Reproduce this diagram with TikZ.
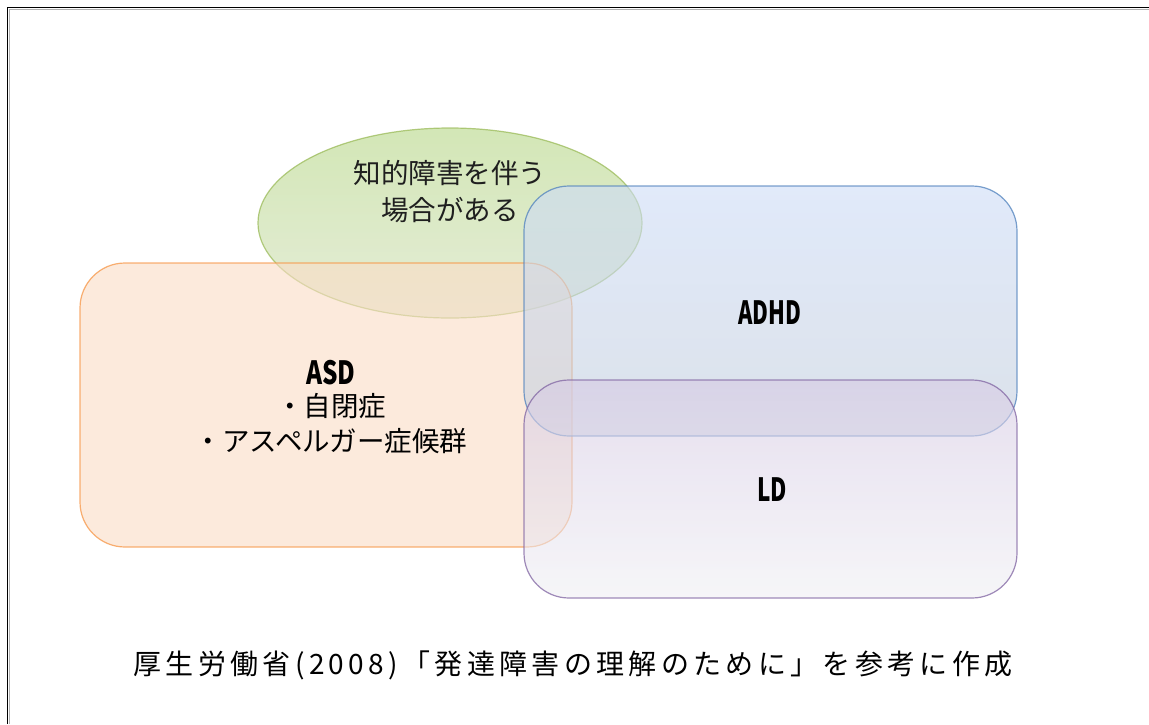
\documentclass[tikz,border=0pt]{standalone}
\usepackage{fontspec}
\usepackage{graphicx}
\setmainfont{Noto Sans CJK JP}
\newfontfamily\capfont[LetterSpace=15.5]{Noto Sans CJK JP}
\newcommand\bigfnt{\fontsize{32}{38}\selectfont\bfseries}
\usetikzlibrary{shapes.geometric}
\definecolor{grnT}{RGB}{182,215,134}
\definecolor{grnB}{RGB}{212,225,190}
\definecolor{grnL}{RGB}{155,187,89}
\definecolor{asdF}{RGB}{250,220,197}
\definecolor{asdL}{RGB}{247,150,70}
\definecolor{adT}{RGB}{205,220,247}
\definecolor{adM}{RGB}{165,178,205}
\definecolor{adB}{RGB}{196,206,220}
\definecolor{adL}{RGB}{79,129,189}
\definecolor{ldT}{RGB}{214,202,228}
\definecolor{ldM}{RGB}{185,174,200}
\definecolor{ldB}{RGB}{240,240,244}
\definecolor{ldL}{RGB}{128,100,162}
\tikzset{
  blob/.style={fill opacity=0.6, draw opacity=0.75, line width=1.2pt, inner sep=0pt, text opacity=1},
  rbox/.style={blob, rectangle, rounded corners=45pt},
  lab/.style={font=\fontsize{27.5}{37}\selectfont, align=center, text=black!88},
  bigtxt/.style={font=\bigfnt}
}
\begin{document}
\begin{tikzpicture}[x=1pt,y=-1pt]
\useasboundingbox (0,0) rectangle (1149,724);
\fill[white] (0,0) rectangle (1149,724);
\draw[line width=1.5pt, black!30] (9.3,724) -- (9.3,9.3) -- (1149,9.3);
\draw[line width=1.8pt] (7.5,724) -- (7.5,7.5) -- (1149,7.5);
% ellipse
\node[blob, ellipse, draw=grnL, top color=grnT, bottom color=grnB,
      minimum width=384pt, minimum height=190pt] (iq) at (450,223) {};
\node[lab] (iqt) at (450,192) {知的障害を伴う\\場合がある};
% ASD
\node[rbox, draw=asdL, fill=asdF, minimum width=492pt, minimum height=284pt] (asd) at (326,405) {};
\node[lab, text=black] (asdt) at (331,407) {{\bigfnt\scalebox{0.76}[1]{ASD}}\\[-5pt]・自閉症\\[-2pt]・アスペルガー症候群};
% ADHD
\node[rbox, draw=adL, top color=adT, middle color=adM, bottom color=adB,
      minimum width=493pt, minimum height=250pt] (adhd) at (770.5,311) {};
\node[bigtxt] (adhdt) at (770,313) {\scalebox{0.68}[1]{ADHD}};
% LD
\node[rbox, draw=ldL, top color=ldT, middle color=ldM, bottom color=ldB,
      minimum width=493pt, minimum height=218pt] (ld) at (770.5,489) {};
\node[bigtxt] (ldt) at (772,490) {\scalebox{0.7}[1]{LD}};
% caption
\node[font=\capfont\fontsize{28}{30}\selectfont] (cap) at (573,665) {厚生労働省(2008)「発達障害の理解のために」を参考に作成};
\end{tikzpicture}
\end{document}
